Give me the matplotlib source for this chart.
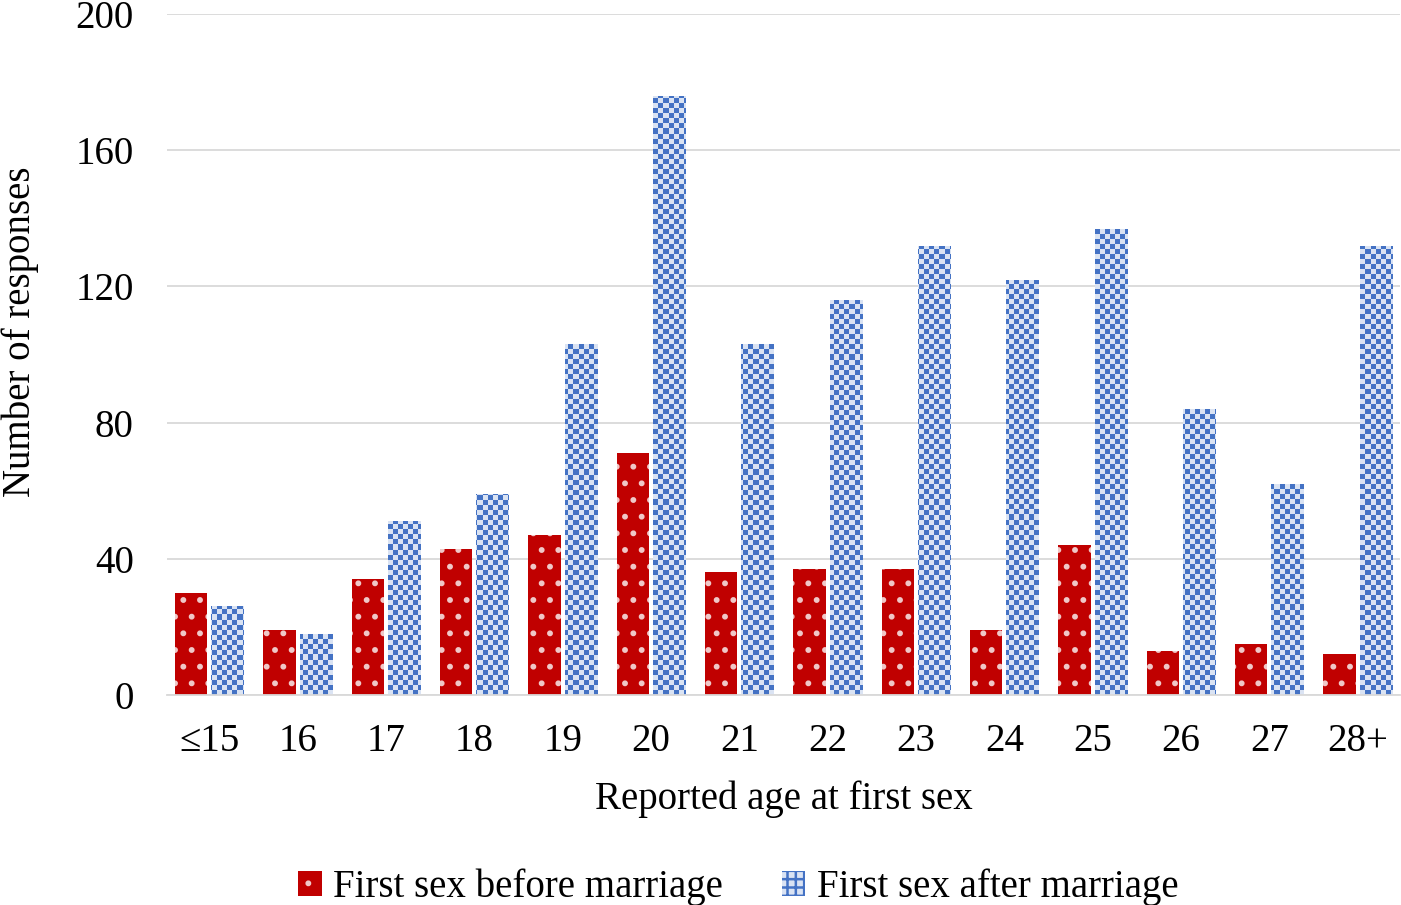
import numpy as np
import matplotlib.pyplot as plt
from matplotlib.patches import Patch
from matplotlib.colors import ListedColormap

plt.rcParams['font.family'] = ['Liberation Serif', 'DejaVu Serif']
plt.rcParams['hatch.linewidth'] = 1.8

ages = ['≤15', '16', '17', '18', '19', '20', '21', '22', '23', '24', '25', '26', '27', '28+']
before = [30, 19, 34, 43, 47, 71, 36, 37, 37, 19, 44, 13, 15, 12]
after = [26, 18, 51, 59, 103, 176, 103, 116, 132, 122, 137, 84, 62, 132]

red = '#c00000'
blue_bg = '#dae3f3'
blue = '#4472c4'

fig = plt.figure(figsize=(14.01, 9.05), dpi=100)
ax = fig.add_axes([167/1401, 1 - 695/905, (1400 - 167)/1401, (695 - 14)/905])

x = np.arange(len(ages))
w = 0.365
off = 0.205
xlim = (-0.48, len(ages) - 0.52)
ylim = (0, 200)
ax.bar(x - off, before, w, color=red, edgecolor='#f0c8c8', hatch='.', linewidth=0, zorder=2)
bars = ax.bar(x + off, after, w, color='none', linewidth=0, zorder=2)

# checkerboard fill for the "after" bars, ~5 px cells
ny, nx = 681 // 5, 1233 // 5
checker = (np.add.outer(np.arange(ny), np.arange(nx)) % 2)
cmap = ListedColormap([blue_bg, blue])
for b in bars:
    im = ax.imshow(checker, cmap=cmap, extent=(xlim[0], xlim[1], ylim[0], ylim[1]),
                   aspect='auto', interpolation='nearest', origin='lower', zorder=2)
    im.set_clip_path(b)

ax.set_ylim(*ylim)
ax.set_xlim(*xlim)
ax.set_yticks(range(0, 201, 40))
ax.yaxis.grid(True, color='#d9d9d9', linewidth=1.3, zorder=0)
ax.set_axisbelow(True)
for s in ['top', 'right', 'left']:
    ax.spines[s].set_visible(False)
ax.spines['bottom'].set_color('#d9d9d9')
ax.spines['bottom'].set_linewidth(1.3)
ax.tick_params(axis='both', length=0, labelsize=28)
ax.tick_params(axis='x', pad=20)
ax.tick_params(axis='y', pad=24)
ax.set_xticks(x)
ax.set_xticklabels(ages)
ax.set_xlabel('Reported age at first sex', fontsize=28, labelpad=15)
ax.set_ylabel('Number of responses', fontsize=28, labelpad=26)
ax.yaxis.label.set_y(0.533)

handles = [Patch(facecolor=red, edgecolor='#f0c8c8', hatch='.', linewidth=0, label='First sex before marriage'),
           Patch(facecolor=blue_bg, edgecolor=blue, hatch='++', linewidth=0, label='First sex after marriage')]
fig.legend(handles=handles, loc='lower center', bbox_to_anchor=(0.527, -0.04), ncol=2, frameon=False,
           fontsize=28, handlelength=0.6, handleheight=0.6, handletextpad=0.3, columnspacing=1.5)

fig.savefig('out.png', dpi=100)
